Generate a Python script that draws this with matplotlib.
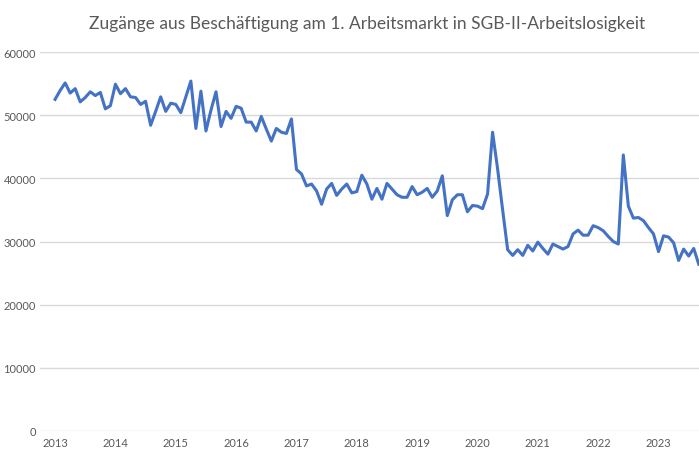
import matplotlib
matplotlib.use('Agg')
import matplotlib.pyplot as plt

# monthly values, Jan 2013 onwards
values = [
    52500, 53900, 55100, 53500, 54200, 52100, 52800, 53700, 53100, 53600, 51000, 51500,  # 2013
    54900, 53400, 54200, 52900, 52800, 51700, 52200, 48400, 50600, 52900, 50600, 51900,  # 2014
    51700, 50400, 52900, 55400, 47900, 53800, 47500, 50800, 53700, 48200, 50600, 49500,  # 2015
    51400, 51100, 48900, 48900, 47500, 49800, 47800, 45900, 47900, 47300, 47100, 49400,  # 2016
    41400, 40700, 38800, 39100, 38000, 35900, 38300, 39200, 37300, 38300, 39100, 37700,  # 2017
    37900, 40500, 39100, 36700, 38400, 36700, 39200, 38300, 37400, 37000, 37000, 38700,  # 2018
    37400, 37800, 38400, 37000, 38000, 40400, 34100, 36600, 37400, 37400, 34700, 35700,  # 2019
    35600, 35200, 37500, 47300, 41500, 35000, 28700, 27800, 28700, 27800, 29400, 28500,  # 2020
    29900, 28900, 28000, 29600, 29200, 28800, 29200, 31200, 31800, 31000, 31000, 32500,  # 2021
    32200, 31700, 30800, 30000, 29600, 43700, 35600, 33700, 33800, 33300, 32200, 31200,  # 2022
    28400, 30900, 30700, 29800, 27000, 28800, 27700, 28900, 26400,                       # 2023
]
years = [str(y) for y in range(2013, 2024)]
title = 'Zugänge aus Beschäftigung am 1. Arbeitsmarkt in SGB-II-Arbeitslosigkeit'

fig = plt.figure(figsize=(6.99, 4.52), dpi=100)
ax = fig.add_axes([40 / 699, 20 / 452, 659 / 699, 379 / 452])

ax.plot(range(len(values)), values, color='#4472C4', lw=2.2, solid_joinstyle='round',
        clip_on=False, zorder=3)

ax.set_xlim(-3, 128.05)
ax.set_ylim(0, 60000)
ax.set_yticks(range(0, 60001, 10000))
ax.set_xticks(range(0, 121, 12))
ax.set_xticklabels(years)
ax.grid(axis='y', color='#d9d9d9', lw=1)
ax.set_axisbelow(True)
for s in ax.spines.values():
    s.set_visible(False)
ax.tick_params(length=0, labelsize=8, labelcolor='#595959', labelfontfamily='Lato')
ax.tick_params(axis='y', pad=3)
ax.tick_params(axis='x', pad=4.5)

fig.text(0.525, 0.948, title, ha='center', va='center', fontsize=12.5,
         color='#595959', family='Lato')

fig.savefig('out.png', dpi=100)
